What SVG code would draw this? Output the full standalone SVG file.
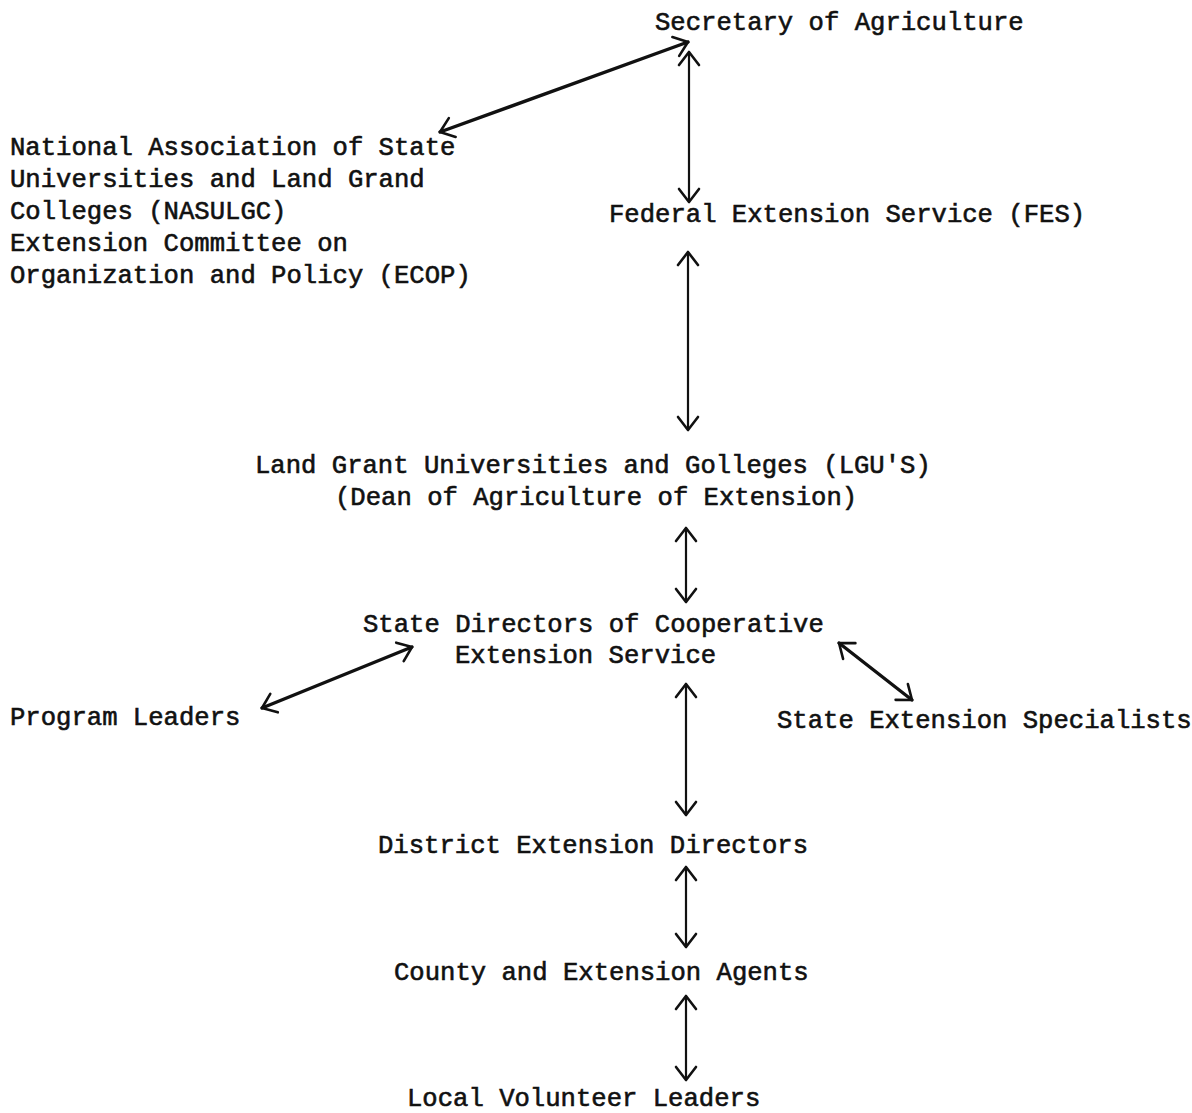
<svg xmlns="http://www.w3.org/2000/svg" width="1192" height="1113" viewBox="0 0 1192 1113">
<style>
text{font-family:"Liberation Mono","Courier New",monospace;font-size:25.6px;fill:#111;stroke:#111;stroke-width:0.6px;}
.c{fill:none;stroke:#111;stroke-width:2.2;stroke-linecap:round;}
.t{stroke-width:3.4;}
</style>
<defs>
<marker id="h" viewBox="-16 -12 18 24" markerWidth="18" markerHeight="24" refX="0" refY="0" orient="auto-start-reverse" markerUnits="userSpaceOnUse">
<path d="M-13,-10 L0,0 L-13,10" fill="none" stroke="#111" stroke-width="2.6" stroke-linecap="round" stroke-linejoin="round"/>
</marker>
</defs>
<rect width="1192" height="1113" fill="#fff"/>
<g id="secretary"><text x="655" y="30">Secretary of Agriculture</text></g>
<g id="nasulgc">
<text x="10" y="155">National Association of State</text>
<text x="10" y="187">Universities and Land Grand</text>
<text x="10" y="219">Colleges (NASULGC)</text>
<text x="10" y="251">Extension Committee on</text>
<text x="10" y="283">Organization and Policy (ECOP)</text>
</g>
<g id="fes"><text x="609" y="222">Federal Extension Service (FES)</text></g>
<g id="lgu">
<text x="255" y="473">Land Grant Universities and Golleges (LGU'S)</text>
<text x="335" y="505">(Dean of Agriculture of Extension)</text>
</g>
<g id="state-directors">
<text x="363" y="632">State Directors of Cooperative</text>
<text x="455" y="663">Extension Service</text>
</g>
<g id="program-leaders"><text x="10" y="725">Program Leaders</text></g>
<g id="state-specialists"><text x="777" y="728">State Extension Specialists</text></g>
<g id="district"><text x="378" y="853">District Extension Directors</text></g>
<g id="county"><text x="394" y="980">County and Extension Agents</text></g>
<g id="local"><text x="407" y="1106">Local Volunteer Leaders</text></g>
<g id="connectors">
<line class="c t" x1="440" y1="132" x2="688" y2="42" marker-start="url(#h)" marker-end="url(#h)"/>
<line class="c" x1="689" y1="52" x2="689" y2="202" marker-start="url(#h)" marker-end="url(#h)"/>
<line class="c" x1="688" y1="252" x2="688" y2="430" marker-start="url(#h)" marker-end="url(#h)"/>
<line class="c" x1="686" y1="528" x2="686" y2="602" marker-start="url(#h)" marker-end="url(#h)"/>
<line class="c t" x1="262" y1="708" x2="412" y2="647" marker-start="url(#h)" marker-end="url(#h)"/>
<line class="c t" x1="839" y1="643" x2="912" y2="700" marker-start="url(#h)" marker-end="url(#h)"/>
<line class="c" x1="686" y1="684" x2="686" y2="815" marker-start="url(#h)" marker-end="url(#h)"/>
<line class="c" x1="686" y1="867" x2="686" y2="947" marker-start="url(#h)" marker-end="url(#h)"/>
<line class="c" x1="686" y1="996" x2="686" y2="1080" marker-start="url(#h)" marker-end="url(#h)"/>
</g>
</svg>
